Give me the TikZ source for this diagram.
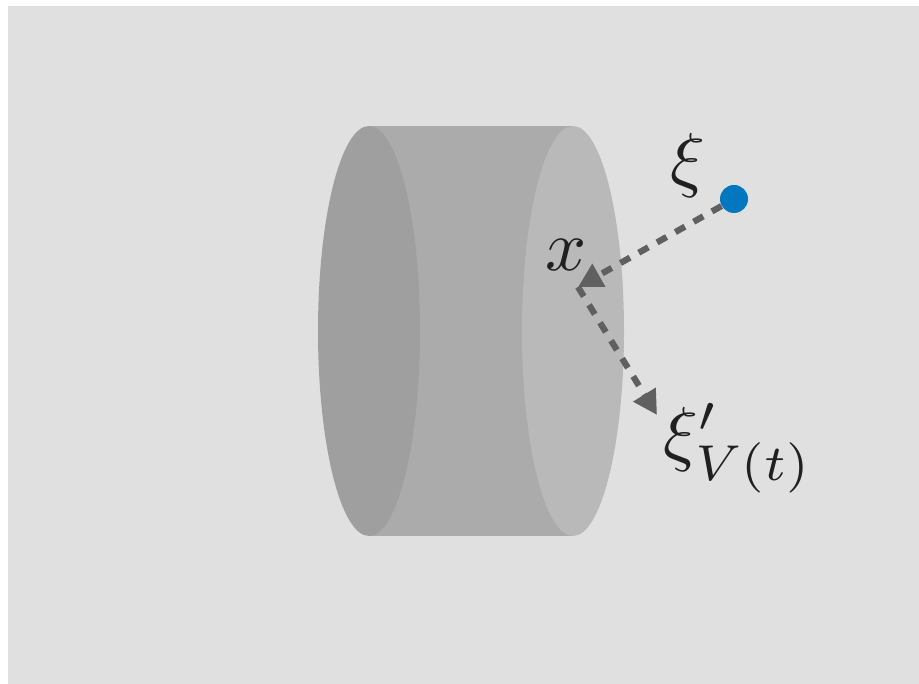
\documentclass[tikz,border=0pt]{standalone}
\usepackage{amsmath,amssymb}
\usepackage{tikz}
\usetikzlibrary{arrows.meta,positioning,calc}
\definecolor{backgray}{RGB}{224, 224, 224}
\definecolor{bodygray}{RGB}{171, 171, 171}
\definecolor{leftgray}{RGB}{159, 159, 159}
\definecolor{rightgray}{RGB}{185, 185, 185}
\definecolor{raygray}{RGB}{96, 96, 96}
\definecolor{sourceblue}{RGB}{0, 119, 190}
\definecolor{labelblack}{RGB}{32, 32, 32}

\begin{document}
\begin{tikzpicture}[
    ray/.style={line width=1.25mm, raygray, dash pattern=on 2.2mm off 2.0mm, -{Triangle[length=4.8mm, width=5mm]}},
    biglabel/.style={labelblack, scale=4.1, inner sep=0pt}
  ]
        \useasboundingbox (0,0) rectangle (18.38,13.68);
        \fill[backgray] (0.16,0) rectangle (18.38,13.56);

        \fill[bodygray] (7.38,11.16) -- (11.46,11.16) -- (11.46,2.96) -- (7.38,2.96) -- cycle;
        \fill[leftgray] (7.38,7.06) ellipse (1.02 and 4.10);
        \fill[rightgray] (11.46,7.06) ellipse (1.02 and 4.10);

        \node[circle, fill=sourceblue, minimum size=5.6mm, inner sep=0pt] (source) at (14.68,9.70) {};
        \coordinate (hit) at (11.56,7.94);
        \coordinate (exit) at (13.14,5.38);

        \draw[ray] (source) -- (hit);
        \draw[ray] (hit) -- (exit);

        \node[biglabel] (xilabel) at (13.76,10.38) {$\xi$};
        \node[biglabel] (xlabel) at (11.33,8.59) {$x$};
        \node[biglabel] (xioutlabel) at (14.76,4.72) {$\xi'_{V(t)}$};
      \end{tikzpicture}
\end{document}
